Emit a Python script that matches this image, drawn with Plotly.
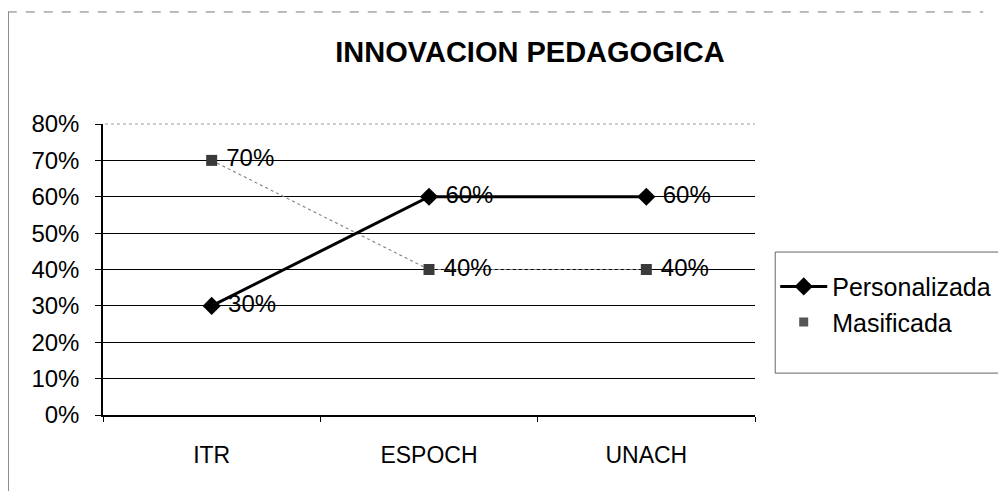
import plotly.graph_objects as go

categories = ["ITR", "ESPOCH", "UNACH"]
personalizada = [0.30, 0.60, 0.60]
masificada = [0.70, 0.40, 0.40]
labels_pers = ["30%", "60%", "60%"]
labels_mas = ["70%", "40%", "40%"]
ytick_vals = [0, 0.1, 0.2, 0.3, 0.4, 0.5, 0.6, 0.7, 0.8]
ytick_text = ["0%", "10%", "20%", "30%", "40%", "50%", "60%", "70%", "80%"]

FONT = "Arial, Liberation Sans, sans-serif"

fig = go.Figure()
fig.add_trace(go.Scatter(
    x=categories, y=masificada, name="Masificada", showlegend=False,
    mode="lines+markers+text",
    line=dict(color="#8a8a8a", width=1.2, dash="dot"),
    marker=dict(symbol="square", size=11, color="#3a3a3a"),
    text=[" " + t for t in labels_mas], textposition="middle right",
    textfont=dict(size=24, color="black", family=FONT),
))
fig.add_trace(go.Scatter(
    x=categories, y=personalizada, name="Personalizada",
    mode="lines+markers+text",
    line=dict(color="black", width=3),
    marker=dict(symbol="diamond", size=14, color="black"),
    text=[" " + t for t in labels_pers], textposition="middle right",
    textfont=dict(size=24, color="black", family=FONT),
))
# legend entry for Masificada (marker only, as in the original legend)
fig.add_trace(go.Scatter(
    x=[None], y=[None], name="Masificada", mode="markers",
    marker=dict(symbol="square", size=9, color="#555555"),
))

fig.update_layout(
    width=998, height=483,
    paper_bgcolor="white", plot_bgcolor="white",
    margin=dict(l=95, r=251, t=116, b=76, autoexpand=False),
    font=dict(family=FONT, color="black"),
    title=dict(text="<b>INNOVACION PEDAGOGICA</b>", x=0.523, xanchor="center",
               y=0.909, yanchor="middle", yref="container",
               font=dict(size=29, family=FONT, color="black")),
    legend=dict(x=1.031, xanchor="left", y=0.52, yanchor="top",
                borderwidth=0, bgcolor="rgba(0,0,0,0)",
                font=dict(size=25, family=FONT, color="black"),
                tracegroupgap=9, itemwidth=47),
    showlegend=True,
)
fig.update_xaxes(
    type="category", range=[-0.5, 2.5],
    showline=True, linecolor="black", linewidth=1.5,
    ticks="outside", tickson="boundaries", ticklen=5, tickcolor="black",
    showgrid=False, ticklabelstandoff=19,
    tickfont=dict(size=23, family=FONT, color="black"),
)
fig.update_yaxes(
    range=[0, 0.8], tickvals=ytick_vals, ticktext=ytick_text,
    showline=True, linecolor="black", linewidth=1.5,
    ticks="outside", ticklen=6, tickcolor="black",
    showgrid=True, gridcolor="black", gridwidth=1,
    ticklabelstandoff=11,
    tickfont=dict(size=24, family=FONT, color="black"),
    zeroline=False,
)
# faint top gridline, as in the scan
fig.add_shape(type="line", xref="paper", yref="paper", x0=0.003, x1=1, y0=1, y1=1,
              line=dict(color="white", width=2))
fig.add_shape(type="line", xref="paper", yref="paper", x0=0.003, x1=1, y0=1, y1=1,
              line=dict(color="#999999", width=1, dash="dot"))
# legend frame (right edge runs off the scanned page)
fig.add_shape(type="rect", xref="paper", yref="paper", x0=1.031, x1=1.40, y0=0.144, y1=0.56,
              line=dict(color="#666666", width=1), layer="below")
# scanned outer frame (left and top edges)
fig.add_shape(type="line", xref="paper", yref="paper", x0=-0.146, x1=-0.146, y0=-0.27, y1=1.385,
              line=dict(color="#333333", width=1.5))
fig.add_shape(type="line", xref="paper", yref="paper", x0=-0.146, x1=1.35, y0=1.385, y1=1.385,
              line=dict(color="#777777", width=1, dash="dash"))

fig.write_html("out.html")
